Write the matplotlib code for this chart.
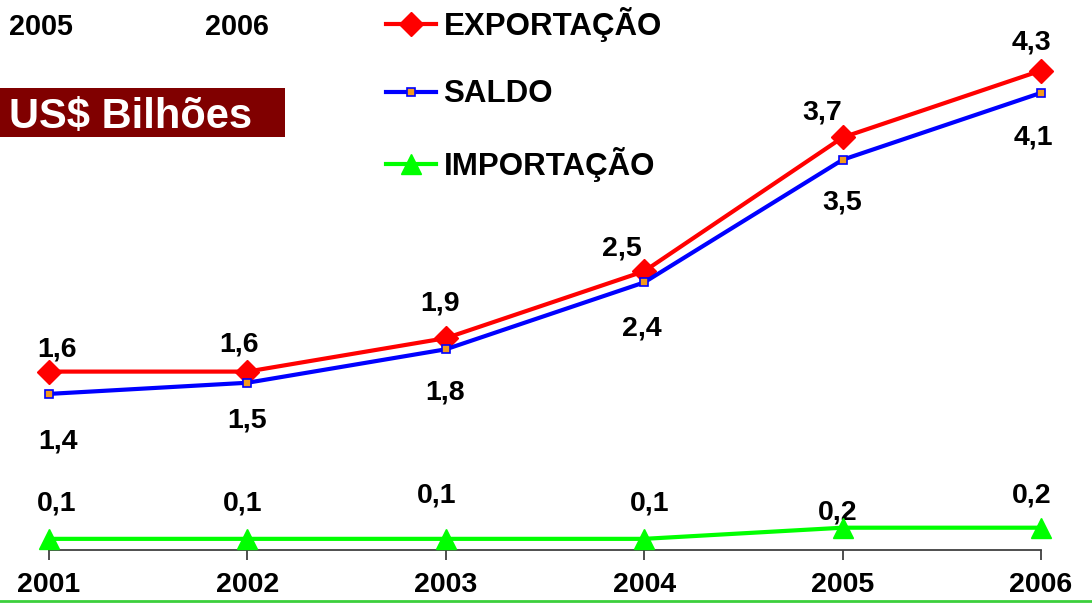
import matplotlib
matplotlib.use("Agg")
import matplotlib.pyplot as plt
from matplotlib.lines import Line2D
from matplotlib.patches import Rectangle

plt.rcParams['font.family'] = ['Liberation Sans', 'DejaVu Sans']

years = [2001, 2002, 2003, 2004, 2005, 2006]
exportacao = [1.6, 1.6, 1.9, 2.5, 3.7, 4.3]
saldo = [1.4, 1.5, 1.8, 2.4, 3.5, 4.1]
importacao = [0.1, 0.1, 0.1, 0.1, 0.2, 0.2]
exp_labels = ["1,6", "1,6", "1,9", "2,5", "3,7", "4,3"]
sal_labels = ["1,4", "1,5", "1,8", "2,4", "3,5", "4,1"]
imp_labels = ["0,1", "0,1", "0,1", "0,1", "0,2", "0,2"]
legend_names = ["EXPORTAÇÃO", "SALDO", "IMPORTAÇÃO"]
unit_label = "US$ Bilhões"
corner_years = ["2005", "2006"]

W, H = 1092, 605
fig = plt.figure(figsize=(W / 100, H / 100), dpi=100)
x0, x1 = 49, 1041
ybot = 550
ax = fig.add_axes([x0 / W, (H - ybot) / H, (x1 - x0) / W, ybot / H])
ax.set_xlim(years[0], years[-1])
ax.set_ylim(0, ybot / 111.5)

l1, = ax.plot(years, exportacao, color='#ff0000', lw=3, marker='D', ms=12,
              mfc='#ff0000', mec='#ff0000', clip_on=False, zorder=4)
l2, = ax.plot(years, saldo, color='#0000ff', lw=3, marker='s', ms=6,
              mfc='#f39a1e', mec='#0000ff', mew=1.2, clip_on=False, zorder=4)
l3, = ax.plot(years, importacao, color='#00ff00', lw=3, marker='^', ms=14,
              mfc='#00ff00', mec='#00ff00', clip_on=False, zorder=4)

# label offsets in pixels (dx, dy) relative to the data point
exp_off = [(8, 22), (-8, 27), (-6, 35), (-22, 23), (-20, 25), (-10, 28)]
sal_off = [(9, -48), (0, -38), (-1, -43), (-2, -46), (0, -43), (-8, -45)]
imp_off = [(8, 35), (-5, 35), (-9, 43), (5, 35), (-5, 15), (-9, 32)]

lbl_kw = dict(fontsize=20.5, fontweight='bold', ha='center', va='center',
              textcoords='offset pixels', annotation_clip=False)
for i, yr in enumerate(years):
    ax.annotate(exp_labels[i], (yr, exportacao[i]), xytext=exp_off[i], **lbl_kw)
    ax.annotate(sal_labels[i], (yr, saldo[i]), xytext=sal_off[i], **lbl_kw)
    ax.annotate(imp_labels[i], (yr, importacao[i]), xytext=imp_off[i], **lbl_kw)

for s in ['top', 'right', 'left']:
    ax.spines[s].set_visible(False)
ax.spines['bottom'].set_color('#404040')
ax.spines['bottom'].set_linewidth(1.3)
ax.set_yticks([])
ax.set_xticks(years)
ax.set_xticklabels([str(y) for y in years], fontsize=20.5, fontweight='bold')
ax.tick_params(axis='x', direction='out', length=7, width=1.3, color='#404040', pad=9)
ax.patch.set_visible(False)

# legend
leg = fig.legend([l1, l2, l3], legend_names, loc='upper left',
                 bbox_to_anchor=(386 / W, 1 - 7 / H), frameon=False,
                 prop=dict(family='Liberation Sans', weight='bold', size=22.5),
                 handlelength=1.6, handletextpad=0.24, labelspacing=1.2,
                 borderpad=0, borderaxespad=0)

# unit box
fig.add_artist(Rectangle((0, 1 - 137 / H), 285 / W, 49 / H, transform=fig.transFigure,
                         facecolor='#800000', edgecolor='none'))
fig.text(9 / W, 1 - 117 / H, unit_label, color='white', fontsize=30,
         fontweight='bold', ha='left', va='center')

# corner year labels
fig.text(41 / W, 1 - 27 / H, corner_years[0], fontsize=20.7, fontweight='bold',
         ha='center', va='center')
fig.text(237 / W, 1 - 27 / H, corner_years[1], fontsize=20.7, fontweight='bold',
         ha='center', va='center')

# bottom green line
fig.add_artist(Line2D([0, 1], [1 - 601 / H, 1 - 601 / H], transform=fig.transFigure,
                      color='#3ccf3c', lw=2))

fig.savefig('out.png', dpi=100)
